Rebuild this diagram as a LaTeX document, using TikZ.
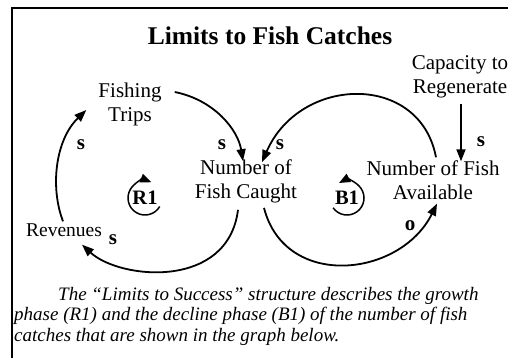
\documentclass[tikz,border=0pt]{standalone}
\usepackage{fontspec}
\setmainfont{Liberation Serif}
\usetikzlibrary{arrows.meta}
\tikzset{
  lbl/.style={inner sep=0pt, align=center, font=\fontsize{21}{24}\selectfont},
  sgn/.style={inner sep=0pt, font=\fontsize{21}{24}\selectfont\bfseries},
  loopname/.style={inner sep=0pt, font=\fontsize{20.5}{22}\selectfont\bfseries},
  link/.style={line width=1.8pt, -{Triangle[length=12pt,width=9pt]}},
  looparrow/.style={line width=1.5pt, -{Triangle[length=11pt,width=9pt]}},
  frame/.style={line width=1.3pt}
}
\begin{document}
\begin{tikzpicture}[x=1pt,y=-1pt]
\useasboundingbox (0,0) rectangle (508,358);
\draw[frame] (12,358) -- (12,8) -- (508,8);
\node[inner sep=0pt, font=\fontsize{25.5}{28}\selectfont\bfseries] (title) at (270,36) {Limits to Fish Catches};
\node[lbl] (trips) at (130,104) {Fishing\\Trips};
\node[lbl] (caught) at (246,181) {Number of\\Fish Caught};
\node[lbl] (avail) at (433,180) {Number of Fish\\Available};
\node[lbl] (cap) at (460,77) {Capacity to\\Regenerate};
\node[lbl, font=\fontsize{19.5}{24}\selectfont] (rev) at (64,230) {Revenues};
% signs
\node[sgn] (s1) at (81,145) {s};
\node[sgn] (s2) at (222,145) {s};
\node[sgn] (s3) at (280,145) {s};
\node[sgn] (s4) at (481,142) {s};
\node[sgn] (s5) at (113,240) {s};
\node[sgn] (o1) at (410,226) {o};
% loop markers
\node[loopname] (r1) at (145,198) {R1};
\node[loopname] (b1) at (347,198) {B1};
\draw[looparrow] (r1.center) ++(30:17) arc[start angle=30, end angle=292, radius=17];
\draw[looparrow] (b1.center) ++(-215:17) arc[start angle=-215, end angle=-478, radius=17];
% connectors
\draw[link] ([shift={(13,-12)}]trips.east) .. controls +(40,8) and +(-5,-31) .. ([shift={(-3,2)}]caught.north);
\draw[link] ([shift={(3,-3)}]avail.north) .. controls +(-16,-85) and +(38,-87) .. ([shift={(16,3)}]caught.north);
\draw[link] ([shift={(1,6)}]cap.south) -- ([shift={(28,1)}]avail.north);
\draw[link] ([shift={(18,5)}]caught.south) .. controls +(21,82) and +(-37,74) .. ([shift={(4,4)}]avail.south);
\draw[link] ([shift={(-8,7)}]caught.south) .. controls +(-10,80) and +(38,35) .. ([shift={(18,8)}]rev.south);
\draw[link] ([shift={(-1,-2)}]rev.north) .. controls +(-13,-34) and +(-31,30) .. ([shift={(-12,6)}]trips.west);
% caption
\node[inner sep=0pt, anchor=north west, align=left, font=\fontsize{19}{20.5}\selectfont\itshape] (cap2) at (14,287)
 {\hspace*{44pt}The ``Limits to Success'' structure describes the growth\\
  phase (R1) and the decline phase (B1) of the number of fish\\
  catches that are shown in the graph below.};
\end{tikzpicture}
\end{document}
